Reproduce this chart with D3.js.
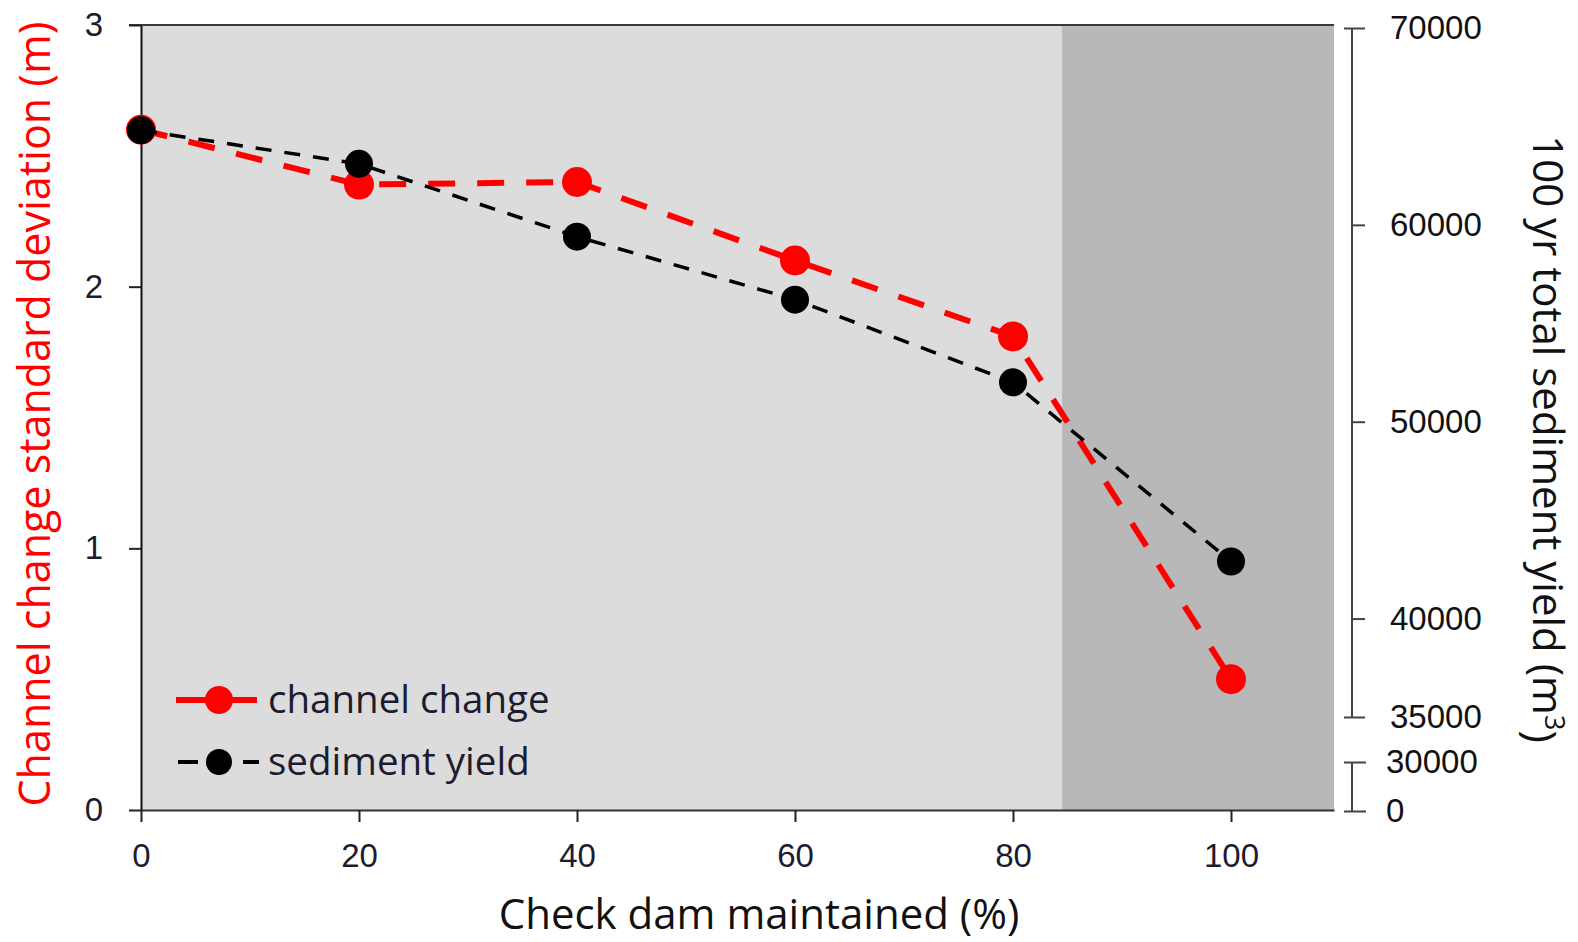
<!DOCTYPE html>
<html>
<head>
<meta charset="utf-8">
<script src="https://cdn.jsdelivr.net/npm/d3@7"></script>
<style>
  body { margin: 0; background: #fff; }
  svg { display: block; font-family: "Open Sans", sans-serif; }
</style>
</head>
<body>
<svg id="chart" width="1578" height="942"></svg>
<script>
// data
const pctMaintained = [0, 20, 40, 60, 80, 100];
const channelChange = [2.60, 2.39, 2.40, 2.10, 1.81, 0.50];
const sedimentYield = [64800, 63100, 59400, 56200, 52000, 42900];
const xTicks = [0, 20, 40, 60, 80, 100];
const leftTicks = [0, 1, 2, 3];
const rightTicksUpper = [35000, 40000, 50000, 60000, 70000];
const rightTicksLower = [0, 30000];
const shadeStart = 84.5; // darker band starts here

const svg = d3.select('#chart');

const plot = { left: 141, top: 25, right: 1334, bottom: 810 };

const x = d3.scaleLinear().domain([0, 109.45]).range([plot.left, plot.right]);
const yLeft = d3.scaleLinear().domain([0, 3]).range([plot.bottom, plot.top]);
// broken right axis: two pieces
const yRight = d3.scaleLinear().domain([35000, 70000]).range([717, 28]);
const yRightLow = d3.scaleLinear().domain([0, 30000]).range([811, 762]);

// background bands
svg.append('rect')
    .attr('x', x(0)).attr('y', plot.top)
    .attr('width', x(shadeStart) - x(0))
    .attr('height', plot.bottom - plot.top)
    .attr('fill', '#dcdcdc');
svg.append('rect')
    .attr('x', x(shadeStart)).attr('y', plot.top)
    .attr('width', plot.right - x(shadeStart))
    .attr('height', plot.bottom - plot.top)
    .attr('fill', '#b8b8b8');

// top frame line
svg.append('line')
    .attr('x1', plot.left - 12).attr('x2', plot.right)
    .attr('y1', plot.top).attr('y2', plot.top)
    .attr('stroke', '#3a3a3a').attr('stroke-width', 2);

// left axis
const gLeft = svg.append('g')
    .attr('transform', `translate(${plot.left},0)`)
    .call(d3.axisLeft(yLeft).tickValues(leftTicks).tickSize(12).tickSizeOuter(0).tickPadding(26).tickFormat(d3.format('d')));
gLeft.select('.domain').attr('stroke', '#111').attr('stroke-width', 2);
gLeft.selectAll('.tick line').attr('stroke', '#222').attr('stroke-width', 2);
gLeft.selectAll('.tick text')
    .style('font-size', '33px')
    .attr('fill', '#1c1c30');

// bottom axis
const gBottom = svg.append('g')
    .attr('transform', `translate(0,${plot.bottom})`)
    .call(d3.axisBottom(x).tickValues(xTicks).tickSize(12).tickSizeOuter(0).tickPadding(22));
gBottom.select('.domain').attr('stroke', '#333').attr('stroke-width', 2);
gBottom.selectAll('.tick line').attr('stroke', '#222').attr('stroke-width', 2);
gBottom.selectAll('.tick text')
    .style('font-size', '33px')
    .attr('fill', '#1c1c30');

// right axis, upper piece
const rightX = 1352;
const gRight = svg.append('g')
    .attr('transform', `translate(${rightX},0)`)
    .call(d3.axisRight(yRight).tickValues(rightTicksUpper).tickSize(13).tickPadding(25).tickFormat(d3.format('d')));
gRight.select('.domain').remove();
gRight.append('line')
    .attr('y1', yRight(35000)).attr('y2', yRight(70000))
    .attr('stroke', '#444').attr('stroke-width', 2);
gRight.selectAll('.tick line').attr('stroke', '#444').attr('stroke-width', 2);
gRight.selectAll('.tick')
    .filter(d => d === 35000 || d === 70000)
    .select('line').attr('x1', -8);
gRight.selectAll('.tick text')
    .style('font-size', '33px')
    .attr('fill', '#111');

// right axis, lower piece
const gRightLow = svg.append('g')
    .attr('transform', `translate(${rightX},0)`)
    .call(d3.axisRight(yRightLow).tickValues(rightTicksLower).tickSize(14).tickPadding(20).tickFormat(d3.format('d')));
gRightLow.select('.domain').remove();
gRightLow.append('line')
    .attr('y1', yRightLow(0)).attr('y2', yRightLow(30000))
    .attr('stroke', '#444').attr('stroke-width', 2);
gRightLow.selectAll('.tick line').attr('x1', -8).attr('stroke', '#444').attr('stroke-width', 2);
gRightLow.selectAll('.tick text')
    .style('font-size', '33px')
    .attr('fill', '#111');

// series
const channelPts = pctMaintained.map((p, i) => ({ x: p, y: channelChange[i] }));
const sedimentPts = pctMaintained.map((p, i) => ({ x: p, y: sedimentYield[i] }));

svg.append('path')
    .datum(channelPts)
    .attr('d', d3.line().x(d => x(d.x)).y(d => yLeft(d.y)))
    .attr('fill', 'none')
    .attr('stroke', '#ff0000')
    .attr('stroke-width', 6)
    .attr('stroke-dasharray', '27,22');

svg.selectAll('.channel-dot')
    .data(channelPts)
    .join('circle')
    .attr('class', 'channel-dot')
    .attr('cx', d => x(d.x))
    .attr('cy', d => yLeft(d.y))
    .attr('r', 15)
    .attr('fill', '#ff0000');

svg.append('path')
    .datum(sedimentPts)
    .attr('d', d3.line().x(d => x(d.x)).y(d => yRight(d.y)))
    .attr('fill', 'none')
    .attr('stroke', '#000')
    .attr('stroke-width', 3.5)
    .attr('stroke-dasharray', '16,13');

svg.selectAll('.sediment-dot')
    .data(sedimentPts)
    .join('circle')
    .attr('class', 'sediment-dot')
    .attr('cx', d => x(d.x))
    .attr('cy', d => yRight(d.y))
    .attr('r', 14)
    .attr('fill', '#000');

// legend
const legend = svg.append('g');
legend.append('line')
    .attr('x1', 176).attr('x2', 257).attr('y1', 700).attr('y2', 700)
    .attr('stroke', '#ff0000').attr('stroke-width', 6);
legend.append('circle')
    .attr('cx', 219).attr('cy', 700).attr('r', 14).attr('fill', '#ff0000');
legend.append('text')
    .attr('x', 268).attr('y', 700).attr('dy', '0.35em')
    .style('font-size', '38.5px').attr('fill', '#1c1c30')
    .text('channel change');

legend.append('line')
    .attr('x1', 178).attr('x2', 198).attr('y1', 762).attr('y2', 762)
    .attr('stroke', '#000').attr('stroke-width', 4);
legend.append('circle')
    .attr('cx', 219).attr('cy', 762).attr('r', 13).attr('fill', '#000');
legend.append('line')
    .attr('x1', 243).attr('x2', 259).attr('y1', 762).attr('y2', 762)
    .attr('stroke', '#000').attr('stroke-width', 4);
legend.append('text')
    .attr('x', 268).attr('y', 762).attr('dy', '0.35em')
    .style('font-size', '38.5px').attr('fill', '#1c1c30')
    .text('sediment yield');

// axis titles
svg.append('text')
    .attr('x', 759).attr('y', 929)
    .attr('text-anchor', 'middle')
    .style('font-size', '42px')
    .attr('fill', '#111')
    .text('Check dam maintained (%)');

svg.append('text')
    .attr('transform', 'translate(50,414) rotate(-90)')
    .attr('text-anchor', 'middle')
    .style('font-size', '43px')
    .attr('fill', '#ff0000')
    .text('Channel change standard deviation (m)');

const rightTitle = svg.append('text')
    .attr('transform', 'translate(1533,439) rotate(90)')
    .attr('text-anchor', 'middle')
    .style('font-size', '42px')
    .attr('fill', '#111');
rightTitle.append('tspan').text('100 yr total sediment yield (m');
rightTitle.append('tspan').attr('dy', '-0.45em').style('font-size', '27px').text('3');
rightTitle.append('tspan').attr('dy', '0.45em').text(')');
</script>
</body>
</html>
